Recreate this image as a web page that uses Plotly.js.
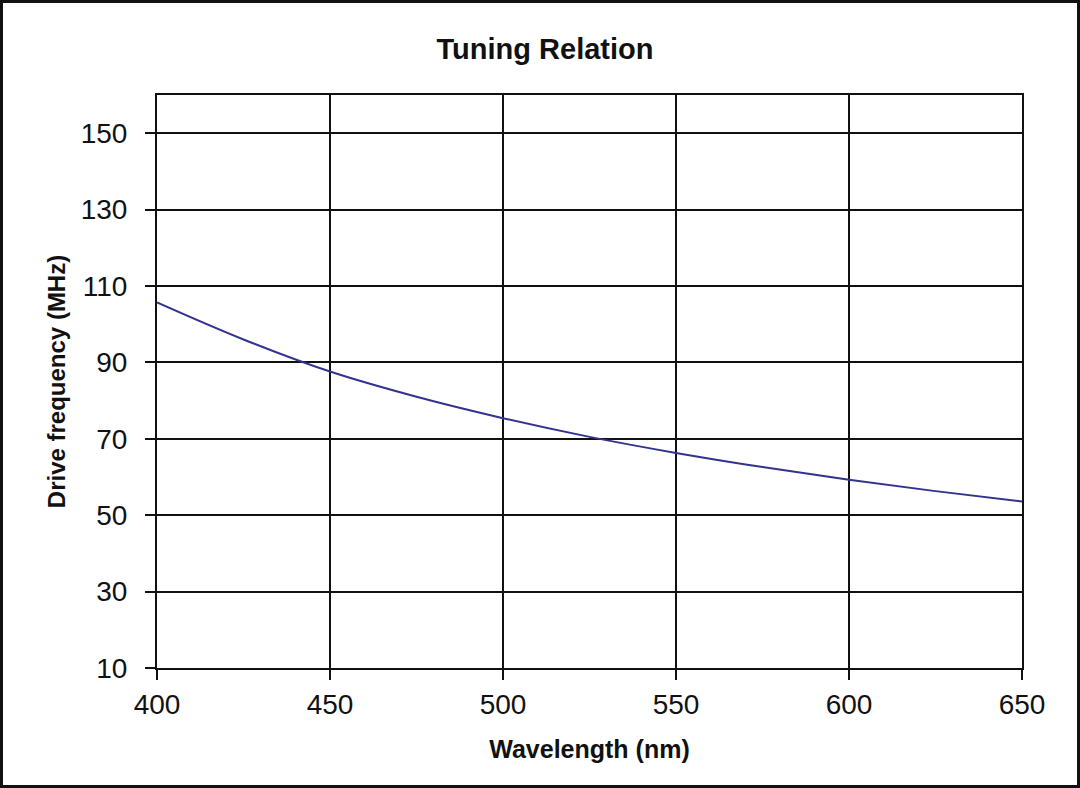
<!DOCTYPE html>
<html>
<head>
<meta charset="utf-8">
<script src="https://cdn.plot.ly/plotly-3.0.1.min.js"></script>
<style>
  html, body { margin: 0; padding: 0; background: #fff; }
  #wrap { position: relative; width: 1080px; height: 788px; }
  #chart { width: 1080px; height: 788px; }
  #frame { position: absolute; left: 0; top: 0; width: 1080px; height: 788px;
           box-sizing: border-box; border: 3px solid #111; pointer-events: none; }
</style>
</head>
<body>
<div id="wrap">
  <div id="chart"></div>
  <div id="frame"></div>
</div>
<script>
// Wavelength (nm) and drive frequency (MHz)
const wavelength = [400, 425, 450, 475, 500, 525, 550, 575, 600, 625, 650];
const driveFreq  = [105.7, 96.0, 87.6, 81.0, 75.4, 70.5, 66.3, 62.6, 59.3, 56.3, 53.6];

const xTicks = [400, 450, 500, 550, 600, 650];
const yTicks = [10, 30, 50, 70, 90, 110, 130, 150];

const FONT = '"Liberation Sans", Arial, Helvetica, sans-serif';
const INK = '#111';

const trace = {
  x: wavelength,
  y: driveFreq,
  type: 'scatter',
  mode: 'lines',
  line: { color: '#33338f', width: 2, shape: 'spline', smoothing: 1 },
  hoverinfo: 'x+y'
};

const layout = {
  width: 1080,
  height: 788,
  paper_bgcolor: '#fff',
  plot_bgcolor: '#fff',
  showlegend: false,
  margin: { l: 157, r: 58, t: 95, b: 120 },
  font: { family: FONT, color: INK },
  title: {
    text: '<b>Tuning Relation</b>',
    font: { family: FONT, size: 29, color: INK },
    x: 545 / 1080, xanchor: 'center',
    xref: 'container',
    y: 1 - 49 / 788, yref: 'container', yanchor: 'middle'
  },
  xaxis: {
    range: [400, 650],
    tickvals: xTicks,
    ticktext: xTicks.map(String),
    ticks: 'outside', ticklen: 10, tickwidth: 2, tickcolor: INK,
    tickfont: { family: FONT, size: 28, color: INK },
    showgrid: true, gridcolor: INK, gridwidth: 2,
    showline: true, linecolor: INK, linewidth: 2, mirror: true,
    zeroline: false,
    title: { text: '<b>Wavelength (nm)</b>', font: { family: FONT, size: 25, color: INK }, standoff: 22 }
  },
  yaxis: {
    range: [10, 160],
    tickvals: yTicks,
    ticktext: yTicks.map(String),
    ticks: 'outside', ticklen: 10, tickwidth: 2, tickcolor: INK,
    ticklabelstandoff: 12,
    tickfont: { family: FONT, size: 28, color: INK },
    showgrid: true, gridcolor: INK, gridwidth: 2,
    showline: true, linecolor: INK, linewidth: 2, mirror: true,
    zeroline: false,
    title: { text: '<b>Drive frequency (MHz)</b>', font: { family: FONT, size: 24, color: INK }, standoff: 8 }
  }
};

Plotly.newPlot('chart', [trace], layout, { displayModeBar: false, staticPlot: true });
</script>
</body>
</html>
